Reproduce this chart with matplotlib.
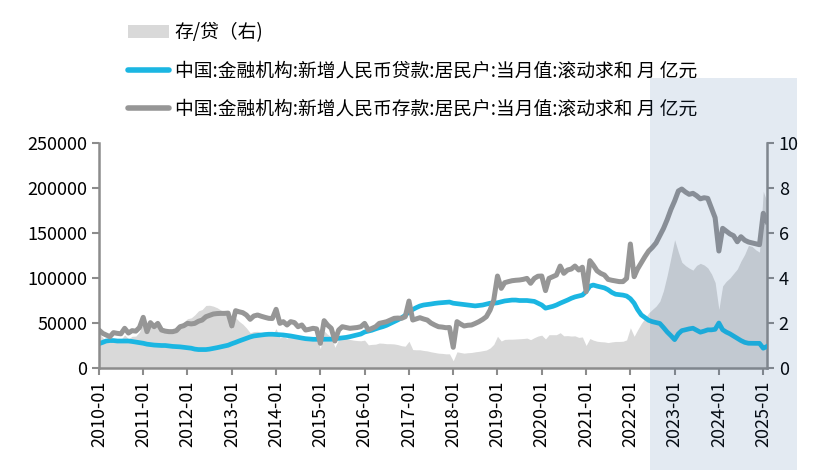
import pandas as pd
import matplotlib.pyplot as plt
import matplotlib.dates as mdates
from matplotlib.patches import Rectangle, Patch
from matplotlib.lines import Line2D

plt.rcParams['font.family'] = ['Noto Sans CJK SC', 'DejaVu Sans']

# monthly, 2010-01 .. 2025-02
months = pd.date_range("2010-01-01", periods=182, freq="MS")

# 新增人民币贷款:居民户 滚动求和 (亿元)
loans = [
    27000, 28500, 30000, 30500, 30500, 30000, 30000, 30000, 30000, 29500, 28800, 28200,
    27500, 26500, 26000, 25500, 25200, 25000, 25000, 24500, 24000, 23800, 23500, 23000,
    22600, 22000, 21000, 20500, 20500, 20500, 21000, 21800, 22600, 23500, 24400, 25300,
    27000, 28500, 30000, 31500, 33000, 34500, 35600, 36200, 36700, 37200, 37500, 37500,
    37200, 37000, 36700, 36200, 35600, 34800, 34000, 33300, 32600, 32200, 31900, 31900,
    31900, 31900, 31900, 32000, 32500, 33000, 33500, 34000, 34800, 35800, 36800, 37800,
    40000, 41000, 42000, 43500, 44800, 46000, 47500, 49500, 51500, 53500, 55800, 58500,
    62600, 65000, 67000, 68900, 70000, 70500, 71100, 71800, 72300, 72600, 73000, 73300,
    72000, 71500, 71000, 70500, 70000, 69500, 69000, 69500, 70000, 71000, 72000, 72000,
    72500, 73500, 74500, 75000, 75500, 75500, 75000, 75000, 75000, 74500, 74000, 72000,
    70000, 66500, 67500, 68500, 70000, 72000, 73700, 75500, 77500, 79000, 80000, 81000,
    85000, 91000, 92200, 91000, 90000, 89000, 87000, 84000, 82000, 81500, 81000, 80000,
    77000, 72000, 65000, 59000, 56000, 53000, 51500, 50500, 49500, 45000, 40000, 36000,
    31500, 38000, 41500, 42500, 43500, 44200, 42000, 39800, 41000, 42400, 42400, 43000,
    50000, 42500, 40000, 38000, 35500, 33000, 30500, 28500, 27500, 27400, 27400, 27400,
    22000, 24000,
]

# 新增人民币存款:居民户 滚动求和 (亿元)
deposits = [
    42200, 38500, 36700, 34800, 39300, 38500, 38000, 44100, 38900, 41500, 41000, 45000,
    56300, 40400, 50400, 45900, 49600, 42200, 41000, 40400, 40400, 41500, 45900, 47000,
    49600, 49000, 49600, 52000, 53300, 57000, 58500, 60000, 60500, 60700, 60700, 61000,
    46700, 63700, 62500, 61500, 58900, 54100, 57800, 58900, 57500, 56300, 55200, 55000,
    65200, 49600, 51500, 47800, 51500, 50500, 45900, 47800, 42200, 43000, 44100, 43500,
    27400, 52600, 47800, 44100, 30000, 42200, 45900, 45000, 44100, 44500, 45000, 45900,
    49600, 42200, 44000, 45900, 49600, 50500, 51500, 53300, 55200, 55500, 55200, 57000,
    74400, 53300, 54500, 55900, 54500, 53300, 50000, 47800, 45900, 45500, 44800, 45000,
    23000, 51500, 49000, 46700, 47500, 47800, 49500, 51500, 54000, 57000, 64400, 75500,
    102200, 88500, 94800, 96000, 97000, 97500, 97800, 98500, 99600, 94100, 99600, 102000,
    102200, 86000, 99600, 101500, 103300, 113300, 105200, 108900, 110000, 113300, 108900, 112000,
    84800, 119300, 114400, 108000, 105200, 103300, 98500, 97500, 96700, 96000, 96000, 99600,
    137800, 101500, 110000, 117000, 123700, 130000, 134000, 139000, 147000, 155000, 165000, 176000,
    185600, 196700, 198900, 195500, 193000, 194100, 191500, 188000, 189200, 188500, 177400, 167000,
    130000, 155200, 152200, 149000, 147000, 140300, 145900, 142000, 140000, 139000, 138000, 137000,
    171900, 162600,
]

# 存/贷 (right axis)
ratio = [
    1.56, 1.35, 1.22, 1.14, 1.29, 1.28, 1.27, 1.47, 1.30, 1.41, 1.42, 1.60,
    2.05, 1.52, 1.94, 1.80, 1.97, 1.69, 1.64, 1.65, 1.68, 1.74, 1.95, 2.04,
    2.19, 2.23, 2.36, 2.54, 2.60, 2.78, 2.79, 2.75, 2.68, 2.58, 2.49, 2.41,
    1.73, 2.24, 2.08, 1.95, 1.78, 1.57, 1.62, 1.63, 1.57, 1.51, 1.47, 1.47,
    1.75, 1.34, 1.40, 1.32, 1.45, 1.45, 1.35, 1.44, 1.29, 1.34, 1.38, 1.36,
    0.86, 1.65, 1.50, 1.38, 0.92, 1.28, 1.37, 1.32, 1.27, 1.24, 1.22, 1.21,
    1.24, 1.03, 1.05, 1.06, 1.11, 1.10, 1.08, 1.08, 1.07, 1.04, 0.99, 0.97,
    1.19, 0.82, 0.81, 0.81, 0.78, 0.76, 0.72, 0.69, 0.66, 0.65, 0.63, 0.63,
    0.32, 0.72, 0.69, 0.66, 0.68, 0.69, 0.72, 0.74, 0.77, 0.80, 0.89, 1.05,
    1.41, 1.20, 1.27, 1.28, 1.28, 1.29, 1.30, 1.31, 1.33, 1.26, 1.35, 1.42,
    1.46, 1.29, 1.48, 1.48, 1.48, 1.57, 1.43, 1.44, 1.42, 1.43, 1.36, 1.38,
    1.00, 1.31, 1.24, 1.19, 1.17, 1.16, 1.13, 1.16, 1.18, 1.18, 1.19, 1.25,
    1.79, 1.41, 1.69, 1.98, 2.21, 2.45, 2.60, 2.75, 2.97, 3.44, 4.13, 4.89,
    5.70, 5.15, 4.70, 4.55, 4.44, 4.35, 4.56, 4.65, 4.58, 4.45, 4.18, 3.80,
    2.60, 3.65, 3.85, 4.00, 4.20, 4.40, 4.75, 5.05, 5.45, 5.40, 5.25, 5.15,
    7.85, 7.40,
]

lab_ratio = "存/贷（右)"
lab_loan = "中国:金融机构:新增人民币贷款:居民户:当月值:滚动求和 月 亿元"
lab_dep = "中国:金融机构:新增人民币存款:居民户:当月值:滚动求和 月 亿元"

blue = "#1bb6e2"
grey = "#969696"
area = "#d9d9d9"
axis_c = "#8c8c8c"

fig = plt.figure(figsize=(8.22, 4.70), dpi=100)
ax = fig.add_axes([0.1204, 0.217, 0.8127, 0.4787])
ax2 = ax.twinx()

# area on the right axis, behind the lines
ax2.fill_between(months, ratio, 0, color=area, linewidth=0)
ax.set_zorder(ax2.get_zorder() + 1)
ax.patch.set_visible(False)

ax.plot(months, loans, color=blue, lw=3.4, solid_joinstyle="round")
ax.plot(months, deposits, color=grey, lw=3.6, solid_joinstyle="round")

ax.set_ylim(0, 250000)
ax.set_yticks(range(0, 250001, 50000))
ax2.set_ylim(0, 10)
ax2.set_yticks(range(0, 11, 2))
ax.set_xlim(months[0], months[-1])

ticks = pd.date_range("2010-01-01", "2025-01-01", freq="YS")
ax.set_xticks(ticks)
ax.set_xticklabels([t.strftime("%Y-%m") for t in ticks], rotation=90)

for a in (ax, ax2):
    for s in a.spines.values():
        s.set_visible(False)
    a.tick_params(colors=axis_c, labelcolor="black", width=1.5, length=5, labelsize=13)
ax.spines["left"].set_visible(True)
ax.spines["bottom"].set_visible(True)
ax2.spines["right"].set_visible(True)
for s in (ax.spines["left"], ax.spines["bottom"], ax2.spines["right"]):
    s.set_color(axis_c)
    s.set_linewidth(1.8)
ax.tick_params(axis="x", pad=4)

# legend
handles = [
    Patch(facecolor=area, edgecolor="none"),
    Line2D([], [], color=blue, lw=4, solid_capstyle="round"),
    Line2D([], [], color=grey, lw=4, solid_capstyle="round"),
]
fig.legend(handles, [lab_ratio, lab_loan, lab_dep], loc="upper left",
           bbox_to_anchor=(128 / 822, 1 - 22 / 470), frameon=False,
           fontsize=13.5, handlelength=2.2, handletextpad=0.3,
           labelspacing=0.92, borderpad=0, borderaxespad=0)

# highlighted period from mid-2022
x0 = ax.transData.transform((mdates.date2num(pd.Timestamp("2022-06-10")), 0))[0]
x0 = fig.transFigure.inverted().transform((x0, 0))[0]
fig.add_artist(Rectangle((x0, 0), 797 / 822 - x0, 1 - 78 / 470,
                         transform=fig.transFigure, facecolor="#2a5f9e",
                         alpha=0.13, edgecolor="none", zorder=10))

plt.savefig("out.png", dpi=100)
